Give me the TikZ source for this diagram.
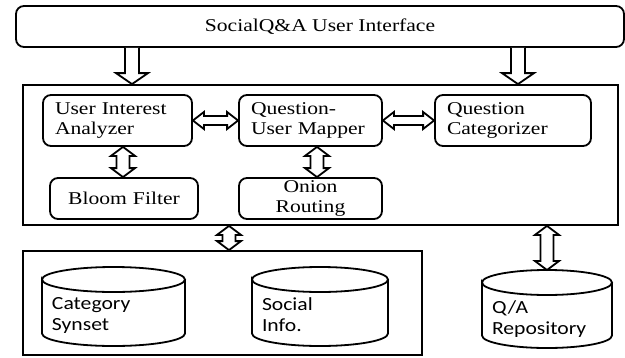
\documentclass[tikz,border=0pt]{standalone}
\usepackage{fontspec}
\setmainfont{Liberation Serif}[FakeStretch=1.2]
\newfontfamily\calibri{Carlito}[FakeStretch=1.17]
\usetikzlibrary{positioning,calc}

\tikzset{
  module/.style={draw, rounded corners=8pt, line width=1.8pt, minimum height=51pt,
    inner xsep=12pt, inner ysep=2pt, align=left, font=\fontsize{18}{20}\selectfont},
  frame/.style={draw, line width=1.8pt},
  store/.style={outer sep=0pt, inner xsep=10pt, align=left, font=\calibri\fontsize{18.5}{21}\selectfont},
  % hollow block arrows: top to bottom
  feed/.style={draw, fill=white, line width=1.8pt, to path={
    let \p1=(\tikztostart), \p2=(\tikztotarget) in
    (\x1-7pt,\y1) -- (\x1-7pt,\y2+11pt) -- (\x1-16pt,\y2+11pt) -- (\x1,\y2)
    -- (\x1+16pt,\y2+11pt) -- (\x1+7pt,\y2+11pt) -- (\x1+7pt,\y1)}},
  vlink/.style={draw, fill=white, line width=1.8pt, to path={
    let \p1=(\tikztostart), \p2=(\tikztotarget) in
    (\x1-6.5pt,\y1-9pt) -- (\x1-12pt,\y1-9pt) -- (\x1,\y1) -- (\x1+12pt,\y1-9pt)
    -- (\x1+6.5pt,\y1-9pt) -- (\x1+6.5pt,\y2+9pt) -- (\x1+12pt,\y2+9pt) -- (\x1,\y2)
    -- (\x1-12pt,\y2+9pt) -- (\x1-6.5pt,\y2+9pt) -- cycle}},
  hlink/.style={draw, fill=white, line width=1.8pt, to path={
    let \p1=(\tikztostart), \p2=(\tikztotarget) in
    (\x1+11pt,\y1+4.5pt) -- (\x1+11pt,\y1+8.5pt) -- (\x1,\y1) -- (\x1+11pt,\y1-8.5pt)
    -- (\x1+11pt,\y1-4.5pt) -- (\x2-11pt,\y1-4.5pt) -- (\x2-11pt,\y1-8.5pt) -- (\x2,\y1)
    -- (\x2-11pt,\y1+8.5pt) -- (\x2-11pt,\y1+4.5pt) -- cycle}}
}

% drum outline round a store node
\newcommand\drum[1]{%
  \draw[line width=1.8pt] let \p1=($(#1.east)-(#1.west)$) in
    ([yshift=-12.5pt]#1.north west) arc[start angle=180, end angle=-180, x radius=0.5*\x1, y radius=12.5pt]
    -- ([yshift=12.5pt]#1.south west) arc[start angle=180, end angle=360, x radius=0.5*\x1, y radius=12.5pt]
    -- ([yshift=-12.5pt]#1.north east);}

\begin{document}
\begin{tikzpicture}[x=1pt, y=-1pt]
  \useasboundingbox (0,0) rectangle (625,357);

  \node[module, minimum width=608pt, minimum height=41pt, align=center] (ui) at (320,26.5) {SocialQ\&A User Interface};

  \node[frame, minimum width=595pt, minimum height=140pt] (main) at (320.5,155) {};
  \node[module, text width=125pt] (ana) at (117.5,120.5) {User Interest\\Analyzer};
  \node[module, text width=119pt] (qum) at (310.5,120.5) {Question-\\User Mapper};
  \node[module, text width=132pt] (qcat) at (513,120.5) {Question\\Categorizer};
  \node[module, text width=124pt, minimum height=41pt, align=center] (bloom) at (124,198.5) {Bloom Filter};
  \node[module, text width=119pt, minimum height=41pt, align=center] (onion) at (310.5,198.5) {Onion\\Routing};

  \node[frame, minimum width=399pt, minimum height=104pt] (db) at (222.5,303) {};
  \node[store, text width=123pt, minimum height=79pt] (cat) at (113.5,306.5) {\rule{0pt}{30pt}Category\\Synset};
  \node[store, text width=116pt, minimum height=79pt] (soc) at (320,306.5) {\rule{0pt}{30pt}Social\\Info.};
  \node[store, text width=110pt, minimum height=78pt] (repo) at (547,309) {\rule{0pt}{32pt}Q/A\\Repository};
  \drum{cat}
  \drum{soc}
  \drum{repo}

  \draw[feed] (ui.south -| 132,0) to (main.north -| 132,0);
  \draw[feed] (ui.south -| 518,0) to (main.north -| 518,0);
  \draw[hlink] (ana.east) to (qum.west);
  \draw[hlink] (qum.east) to (qcat.west);
  \draw[vlink] (ana.south -| 123,0) to (bloom.north -| 123,0);
  \draw[vlink] (qum.south -| 317,0) to (onion.north -| 317,0);
  \draw[vlink] (main.south -| 229,0) to (db.north -| 229,0);
  \draw[vlink] (main.south -| repo.north) to (repo.north);
\end{tikzpicture}
\end{document}
